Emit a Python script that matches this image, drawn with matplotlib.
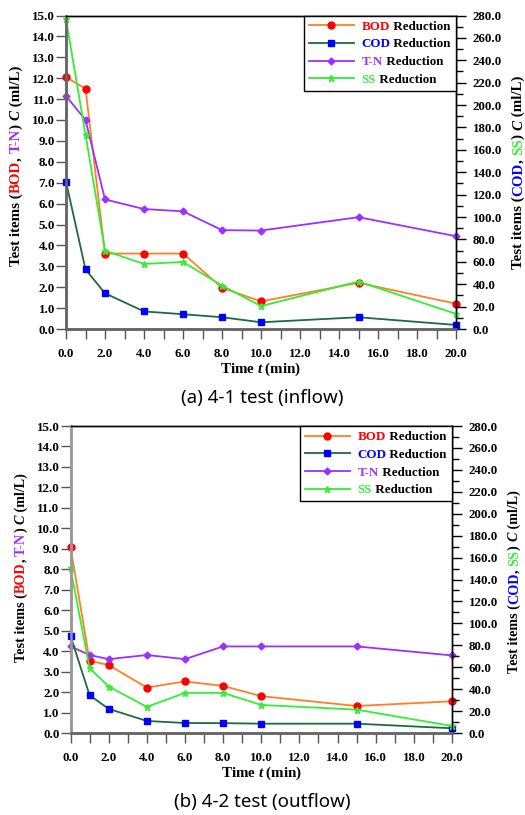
import matplotlib
matplotlib.use("Agg")
import matplotlib.pyplot as plt
from matplotlib.text import Annotation
from matplotlib.ticker import MultipleLocator, FormatStrFormatter

#
# Data
#

# sampling time (min)
time_min = [0, 1, 2, 4, 6, 8, 10, 15, 20]

# (a) 4-1 test (inflow) - BOD, T-N on left axis, COD, SS on right axis
bod_in = [12.05, 11.5, 3.61, 3.61, 3.61, 1.97, 1.32, 2.21, 1.21]
tn_in = [11.15, 10.0, 6.2, 5.74, 5.63, 4.73, 4.71, 5.35, 4.44]
cod_in = [131.6, 53.3, 31.9, 15.7, 13.2, 10.5, 6.0, 10.5, 3.6]
ss_in = [277.0, 173.6, 69.9, 58.1, 59.9, 38.8, 20.5, 42.4, 13.5]

# (b) 4-2 test (outflow)
bod_out = [9.1, 3.53, 3.32, 2.22, 2.52, 2.30, 1.80, 1.32, 1.55]
tn_out = [4.23, 3.81, 3.61, 3.81, 3.61, 4.23, 4.23, 4.23, 3.79]
cod_out = [88.5, 34.5, 22.0, 11.0, 9.1, 9.0, 8.5, 8.5, 4.3]
ss_out = [150.3, 59.2, 42.4, 23.8, 36.6, 36.6, 25.6, 21.3, 6.4]

captions = ["(a) 4-1 test (inflow)", "(b) 4-2 test (outflow)"]

# colours
bod_line, bod_mark = "#ff7f27", "#ff0000"
cod_line, cod_mark = "#1e6b3c", "#0000ff"
tn_col = "#9b30ff"
ss_col = "#33ee33"

serif = "Liberation Serif"
fs = 9.4      # ticks and legend
lfs = 10.8    # axis labels

plt.rcParams['font.family'] = serif
plt.rcParams['font.weight'] = 'bold'
plt.rcParams['mathtext.fontset'] = 'custom'
plt.rcParams['mathtext.it'] = 'Liberation Serif:italic:bold'
plt.rcParams['mathtext.rm'] = 'Liberation Serif:bold'

fig = plt.figure(figsize=(5.25, 8.15), dpi=100)


def colored_label(x, y, pieces, size):
    # stack rotated pieces of text from bottom to top
    prev = fig.text(x, y, pieces[0][0], color=pieces[0][1], rotation=90,
                    ha='left', va='bottom', fontsize=size, fontweight='bold',
                    fontstyle=pieces[0][2])
    for txt, col, style in pieces[1:]:
        a = Annotation(txt, xy=(0, 1), xycoords=prev, rotation=90,
                       ha='left', va='bottom', color=col, fontsize=size,
                       fontweight='bold', fontstyle=style)
        fig.add_artist(a)
        prev = a


def make_panel(rect, bod, tn, cod, ss, caption, cap_y, left_spine_col):
    ax = fig.add_axes(rect)
    ax2 = ax.twinx()

    l1, = ax.plot(time_min, bod, '-', color=bod_line, lw=1.3, marker='o',
                  ms=5, mfc=bod_mark, mec=bod_mark, clip_on=False, label="BOD Reduction")
    l3, = ax.plot(time_min, tn, '-', color=tn_col, lw=1.3, marker='D',
                  ms=3.5, mfc=tn_col, mec=tn_col, clip_on=False, label="T-N Reduction")
    l2, = ax2.plot(time_min, cod, '-', color=cod_line, lw=1.3, marker='s',
                   ms=5, mfc=cod_mark, mec=cod_mark, clip_on=False, label="COD Reduction")
    l4, = ax2.plot(time_min, ss, '-', color=ss_col, lw=1.3, marker='*',
                   ms=5, mfc=ss_col, mec=ss_col, clip_on=False, label="SS Reduction")

    ax.set_xlim(0, 20)
    ax.set_ylim(0, 15)
    ax2.set_ylim(0, 280)

    ax.xaxis.set_major_locator(MultipleLocator(2))
    ax.xaxis.set_minor_locator(MultipleLocator(1))
    ax.xaxis.set_major_formatter(FormatStrFormatter('%.1f'))
    ax.yaxis.set_major_locator(MultipleLocator(1))
    ax.yaxis.set_major_formatter(FormatStrFormatter('%.1f'))
    ax2.yaxis.set_major_locator(MultipleLocator(20))
    ax2.yaxis.set_minor_locator(MultipleLocator(10))
    ax2.yaxis.set_major_formatter(FormatStrFormatter('%.1f'))

    ax.tick_params(axis='x', which='both', direction='out', length=7, width=1,
                   color='#555555', pad=6.5, labelsize=fs)
    ax.tick_params(axis='y', direction='out', length=7, width=1,
                   color='#555555', pad=1, labelsize=fs)
    ax2.tick_params(axis='y', which='major', direction='out', length=7, width=1,
                    pad=5, labelsize=fs)
    ax2.tick_params(axis='y', which='minor', direction='out', length=5, width=1)

    for a in (ax, ax2):
        a.spines['left'].set_color(left_spine_col)
        a.spines['left'].set_linewidth(1.8)
        a.spines['bottom'].set_color('#666666')
        a.spines['bottom'].set_linewidth(1.8)
        a.spines['top'].set_linewidth(1.0)
        a.spines['right'].set_linewidth(1.0)

    ax.set_xlabel("Time $\\mathit{t}$ (min)", fontsize=lfs, fontweight='bold', labelpad=1)

    leg = ax2.legend([l1, l2, l3, l4], ["BOD Reduction", "COD Reduction",
                     "T-N Reduction", "SS Reduction"],
                     loc='upper right', borderaxespad=0, fancybox=False,
                     edgecolor='black', framealpha=1, numpoints=1,
                     handlelength=3.4, fontsize=fs, labelspacing=0.42,
                     borderpad=0.4, handletextpad=0.6)
    leg.get_frame().set_linewidth(1.0)
    # colour only the first word of each legend entry
    heads = [("BOD", bod_mark), ("COD", cod_mark), ("T-N", tn_col), ("SS", ss_col)]
    for t, (word, col) in zip(leg.get_texts(), heads):
        t.set_color('none')
        a = Annotation(word, xy=(0, 0), xycoords=t, ha='left', va='bottom',
                       color=col, fontsize=fs, fontweight='bold')
        fig.add_artist(a)
        b = Annotation(" Reduction", xy=(1, 0), xycoords=a, ha='left', va='bottom',
                       color='black', fontsize=fs, fontweight='bold')
        fig.add_artist(b)

    fig.text(0.5, cap_y, caption, ha='center', va='center', fontsize=13.5,
             fontweight='normal', family=['Noto Sans', 'DejaVu Sans'])
    return ax, ax2


left_pieces = [("Test items (", 'black', 'normal'), ("BOD", bod_mark, 'normal'),
               (", ", 'black', 'normal'), ("T-N", tn_col, 'normal'),
               (") ", 'black', 'normal'), ("C", 'black', 'italic'),
               (" (ml/L)", 'black', 'normal')]
right_pieces = [("Test items (", 'black', 'normal'), ("COD", cod_mark, 'normal'),
                (", ", 'black', 'normal'), ("SS", ss_col, 'normal'),
                (") ", 'black', 'normal'), ("C", 'black', 'italic'),
                (" (ml/L)", 'black', 'normal')]

# top panel
make_panel([66 / 525, 1 - 329 / 815, 390 / 525, 313.5 / 815],
           bod_in, tn_in, cod_in, ss_in, captions[0], 1 - 398 / 815, '#666666')
colored_label(9.5 / 525, 1 - 266 / 815, left_pieces, lfs)
colored_label(512 / 525, 1 - 269 / 815, right_pieces, lfs)

# bottom panel
make_panel([70.5 / 525, 1 - 733 / 815, 381.5 / 525, 307 / 815],
           bod_out, tn_out, cod_out, ss_out, captions[1], 1 - 802 / 815, '#999999')
colored_label(15 / 525, 1 - 662 / 815, left_pieces, 10.2)
colored_label(508 / 525, 1 - 673 / 815, right_pieces, 10.2)

fig.savefig("out.png", dpi=100)
